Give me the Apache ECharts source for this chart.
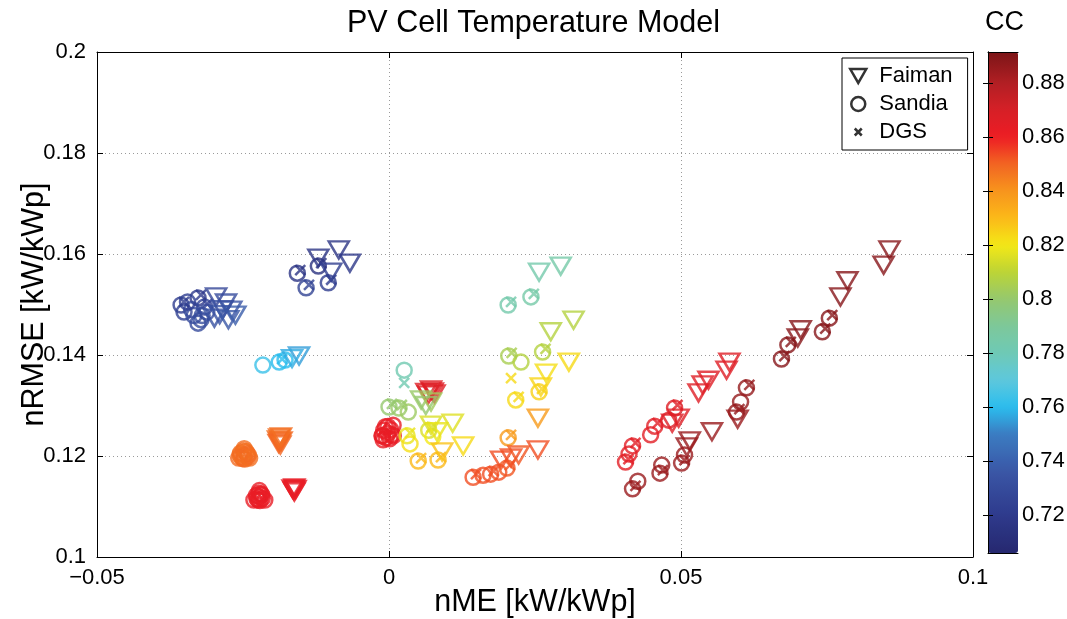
<!DOCTYPE html>
<html><head><meta charset="utf-8">
<script src="https://cdn.jsdelivr.net/npm/echarts@6/dist/echarts.min.js"></script>
<style>html,body{margin:0;padding:0;background:#fff}#c{width:1067px;height:619px}</style>
</head><body><div id="c"></div>
<script>
// ---- data: [nME, nRMSE, CC] ----
const faiman = [
  [-0.0296,0.1515,0.727],[-0.0299,0.1473,0.733],[-0.0279,0.1503,0.730],[-0.0270,0.1489,0.735],[-0.0263,0.1479,0.738],[-0.0285,0.1490,0.732],[-0.0290,0.1480,0.734],[-0.0275,0.1470,0.736],
  [-0.0121,0.1592,0.716],[-0.0086,0.1608,0.716],[-0.0067,0.1582,0.718],[-0.0099,0.1564,0.722],
  [-0.0154,0.1398,0.755],[-0.0166,0.1393,0.757],
  [-0.0188,0.1236,0.848],[-0.0187,0.1228,0.849],[-0.0186,0.1222,0.850],[-0.0190,0.1232,0.848],[-0.0184,0.1230,0.849],[-0.0189,0.1225,0.850],[-0.0185,0.1238,0.848],
  [-0.0162,0.1137,0.862],[-0.0163,0.1132,0.863],[-0.0165,0.1135,0.862],[-0.0160,0.1134,0.863],[-0.0162,0.1129,0.862],
  [0.0075,0.1327,0.866],[0.0067,0.1321,0.866],[0.0072,0.1331,0.866],[0.0078,0.1323,0.866],[0.0064,0.1326,0.866],
  [0.0055,0.1311,0.801],[0.0072,0.1307,0.803],[0.0063,0.1300,0.800],
  [0.0072,0.1261,0.815],[0.0109,0.1265,0.816],[0.0127,0.1220,0.823],[0.0082,0.1248,0.818],
  [0.0091,0.1208,0.828],
  [0.0192,0.1192,0.853],[0.0209,0.1196,0.853],[0.0222,0.1202,0.852],[0.0255,0.1212,0.853],
  [0.0255,0.1275,0.838],
  [0.0269,0.1364,0.822],[0.0260,0.1337,0.824],[0.0308,0.1386,0.823],
  [0.0277,0.1446,0.808],[0.0316,0.1469,0.808],
  [0.0257,0.1564,0.784],[0.0294,0.1576,0.785],
  [0.0485,0.1265,0.866],[0.0496,0.1275,0.866],[0.0530,0.1325,0.866],[0.0537,0.1341,0.866],[0.0547,0.1350,0.866],[0.0578,0.1370,0.866],[0.0583,0.1386,0.866],
  [0.0510,0.1218,0.885],[0.0515,0.1230,0.885],[0.0553,0.1248,0.885],[0.0597,0.1273,0.885],
  [0.0700,0.1434,0.889],[0.0705,0.1450,0.889],[0.0773,0.1515,0.889],[0.0785,0.1547,0.889],[0.0847,0.1578,0.889],[0.0857,0.1608,0.889]
];
const sandia = [
  [-0.0356,0.1499,0.722],[-0.0351,0.1485,0.724],[-0.0327,0.1513,0.720],[-0.0327,0.1463,0.730],[-0.0316,0.1495,0.726],[-0.0338,0.1490,0.728],[-0.0320,0.1478,0.732],
  [-0.0334,0.1478,0.730],[-0.0322,0.1470,0.731],[-0.0312,0.1485,0.729],[-0.0345,0.1505,0.723],
  [-0.0157,0.1562,0.716],[-0.0121,0.1576,0.714],[-0.0142,0.1533,0.725],[-0.0104,0.1543,0.722],
  [-0.0216,0.1380,0.763],[-0.0188,0.1386,0.760],[-0.0178,0.1390,0.760],
  [-0.0248,0.1202,0.848],[-0.0254,0.1206,0.848],[-0.0242,0.1198,0.849],[-0.0250,0.1195,0.850],[-0.0245,0.1209,0.847],[-0.0253,0.1198,0.848],
  [-0.0243,0.1205,0.849],[-0.0249,0.1210,0.848],[-0.0247,0.1194,0.849],[-0.0255,0.1202,0.848],[-0.0241,0.1202,0.849],
  [-0.0248,0.12145,0.848],[-0.02573,0.11958,0.849],[-0.02387,0.11958,0.848],
  [-0.0222,0.1119,0.862],[-0.0227,0.1122,0.862],[-0.0217,0.1116,0.862],[-0.0224,0.1113,0.862],[-0.0219,0.1125,0.862],
  [-0.0226,0.1115,0.862],[-0.0218,0.1123,0.862],[-0.0221,0.1112,0.862],[-0.0223,0.1126,0.862],
  [-0.0222,0.11315,0.862],[-0.02313,0.11128,0.862],[-0.02127,0.11128,0.862],
  [-0.0009,0.1251,0.862],[-0.0005,0.1236,0.862],[0.0007,0.1261,0.863],[-0.0002,0.1245,0.862],[-0.0012,0.1240,0.862],
  [0.0003,0.1252,0.862],[-0.0006,0.1258,0.862],[0.0005,0.1242,0.862],[-0.0010,0.1232,0.862],[0.0001,0.1234,0.862],
  [-0.0002,0.12585,0.862],[-0.00113,0.12398,0.862],[0.00073,0.12398,0.862],
  [0.0026,0.1370,0.782],
  [0.0000,0.1297,0.800],[0.0017,0.1295,0.801],[0.0033,0.1287,0.802],
  [0.0031,0.1240,0.818],[0.0036,0.1224,0.822],[0.0068,0.1251,0.815],[0.0075,0.1238,0.820],
  [0.0050,0.1190,0.830],[0.0084,0.1192,0.830],
  [0.0144,0.1158,0.853],[0.0161,0.1162,0.853],[0.0174,0.1164,0.853],[0.0188,0.1168,0.853],[0.0202,0.1176,0.852],
  [0.0204,0.1236,0.838],
  [0.0217,0.1311,0.823],[0.0257,0.1327,0.825],
  [0.0205,0.1398,0.805],[0.0226,0.1386,0.808],[0.0263,0.1406,0.808],
  [0.0204,0.1499,0.784],[0.0243,0.1515,0.785],
  [0.0405,0.1188,0.865],[0.0411,0.1204,0.865],[0.0417,0.1220,0.865],[0.0448,0.1242,0.865],[0.0455,0.1259,0.865],[0.0479,0.1271,0.866],[0.0489,0.1295,0.866],
  [0.0417,0.1135,0.885],[0.0426,0.1150,0.885],[0.0464,0.1166,0.885],[0.0467,0.1182,0.885],[0.0501,0.1186,0.885],[0.0506,0.1202,0.885],[0.0595,0.1287,0.886],[0.0602,0.1307,0.886],[0.0612,0.1335,0.886],
  [0.0672,0.1392,0.889],[0.0683,0.1420,0.889],[0.0742,0.1446,0.889],[0.0754,0.1473,0.889]
];
const dgs = [
  [-0.0351,0.1505,0.722],[-0.0322,0.1519,0.720],[-0.0311,0.1501,0.726],
  [-0.0152,0.1568,0.716],[-0.0116,0.1582,0.714],[-0.0137,0.1539,0.725],[-0.0099,0.1549,0.722],
  [-0.0183,0.1392,0.760],
  [0.0026,0.1345,0.782],
  [0.0005,0.1303,0.800],[0.0022,0.1301,0.801],
  [0.0036,0.1246,0.818],[0.0073,0.1257,0.815],
  [0.0055,0.1196,0.830],[0.0089,0.1198,0.830],
  [0.0149,0.1164,0.853],[0.0179,0.1170,0.853],[0.0207,0.1182,0.852],
  [0.0209,0.1242,0.838],
  [0.0209,0.1354,0.823],[0.0222,0.1317,0.823],[0.0262,0.1333,0.825],
  [0.0210,0.1404,0.805],[0.0268,0.1412,0.808],
  [0.0209,0.1505,0.784],[0.0248,0.1521,0.785],
  [0.0410,0.1194,0.865],[0.0422,0.1226,0.865],[0.0460,0.1265,0.865],[0.0494,0.1301,0.866],
  [0.0422,0.1141,0.885],[0.0469,0.1172,0.885],[0.0506,0.1192,0.885],[0.0600,0.1293,0.886],[0.0617,0.1341,0.886],
  [0.0677,0.1398,0.889],[0.0688,0.1426,0.889],[0.0747,0.1452,0.889],[0.0759,0.1479,0.889]
];
const xTicks = [-0.05, 0, 0.05, 0.1];
const yTicks = [0.1, 0.12, 0.14, 0.16, 0.18, 0.2];
const ccTicks = [0.72, 0.74, 0.76, 0.78, 0.8, 0.82, 0.84, 0.86, 0.88];
const ccRange = [0.706, 0.8915];
// colormap stops
const ccStops  = [0.706,0.72,0.735,0.75,0.76,0.77,0.78,0.79,0.80,0.81,0.82,0.83,0.84,0.85,0.86,0.87,0.88,0.8915];
const ccColors = ['#26286f','#2e3a8c','#3a54a4','#3b7cc2','#2bbdee','#5ec8dc','#6ec9b6','#7dc89a','#95c86e','#bcd436','#f4e816','#fbb919','#f7941d','#f26522','#ed1c24','#d62027','#b21f24','#7b1517'];

function hex2rgb(h){return [parseInt(h.substr(1,2),16),parseInt(h.substr(3,2),16),parseInt(h.substr(5,2),16)];}
function cmap(v){
  if (v<=ccStops[0]) return ccColors[0];
  for (let i=1;i<ccStops.length;i++){
    if (v<=ccStops[i]){
      const t=(v-ccStops[i-1])/(ccStops[i]-ccStops[i-1]);
      const a=hex2rgb(ccColors[i-1]), b=hex2rgb(ccColors[i]);
      return 'rgb('+a.map((c,k)=>Math.round(c+(b[k]-c)*t)).join(',')+')';
    }
  }
  return ccColors[ccColors.length-1];
}
const barColors=[];
for(let i=0;i<=80;i++){barColors.push(cmap(ccRange[0]+(ccRange[1]-ccRange[0])*i/80));}

const FONT='"Liberation Sans", Arial, Helvetica, sans-serif';
const triPath='path://M0,0L10,0L5,8.66Z';
const xPath='path://M0,0L10,10M0,10L10,0';
const xLegendPath='path://M0,0M16,16M4,4L12,12M4,12L12,4';

function toData(arr){
  return arr.map(p=>({value:[p[0],p[1],p[2]], itemStyle:{color:'rgba(0,0,0,0)', borderColor:cmap(p[2])}}));
}
const fmt = v => String(+v.toFixed(4)).replace('-','\u2212');

const chart = echarts.init(document.getElementById('c'), null, {renderer:'canvas'});
const axisCommon = {
  axisLine:{show:true, onZero:false, lineStyle:{color:'#000', width:1}},
  axisTick:{show:true, inside:true, length:6, lineStyle:{color:'#000'}},
};
const TICKFS = 22;
chart.setOption({
  animation:false,
  backgroundColor:'#fff',
  textStyle:{fontFamily:FONT},
  title:[
    {text:'PV Cell Temperature Model', left:'center', top:3, textStyle:{fontSize:30.5, fontWeight:'normal', color:'#000', fontFamily:FONT}},
    {text:'CC', left:980, top:4, textStyle:{fontSize:27, fontWeight:'normal', color:'#000', fontFamily:FONT}}
  ],
  grid:[
    {left:97, right:94, top:52, bottom:62, show:false, outerBoundsMode:'none', containLabel:false},
    {left:988, top:52, width:30, height:501, show:false, outerBoundsMode:'none', containLabel:false}
  ],
  xAxis:[
    Object.assign({type:'value', gridIndex:0, position:'bottom', min:xTicks[0], max:xTicks[xTicks.length-1], interval:0.05,
      name:'nME [kW/kWp]', nameLocation:'middle', nameGap:30, nameMoveOverlap:false,
      nameTextStyle:{fontSize:30.5, color:'#000', fontFamily:FONT},
      axisLabel:{fontSize:TICKFS, color:'#000', margin:10, formatter:fmt, fontFamily:FONT},
      splitLine:{show:true, lineStyle:{color:'#9a9a9a', type:[1,3], width:1}}}, axisCommon),
    Object.assign({type:'value', gridIndex:0, position:'top', min:xTicks[0], max:xTicks[xTicks.length-1], interval:0.05,
      axisLabel:{show:false}, splitLine:{show:false}}, axisCommon),
    {type:'value', gridIndex:1, position:'bottom', min:0, max:1, axisLabel:{show:false}, axisTick:{show:false}, splitLine:{show:false},
      axisLine:{show:true, lineStyle:{color:'#000'}}, z:10},
    {type:'value', gridIndex:1, position:'top', min:0, max:1, axisLabel:{show:false}, axisTick:{show:false}, splitLine:{show:false},
      axisLine:{show:true, lineStyle:{color:'#000'}}, z:10}
  ],
  yAxis:[
    Object.assign({type:'value', gridIndex:0, position:'left', min:yTicks[0], max:yTicks[yTicks.length-1], interval:0.02,
      name:'nRMSE [kW/kWp]', nameLocation:'middle', nameGap:47, nameMoveOverlap:false,
      nameTextStyle:{fontSize:30.5, color:'#000', fontFamily:FONT},
      axisLabel:{fontSize:TICKFS, color:'#000', margin:11, formatter:fmt, fontFamily:FONT},
      splitLine:{show:true, lineStyle:{color:'#9a9a9a', type:[1,3], width:1}}}, axisCommon),
    Object.assign({type:'value', gridIndex:0, position:'right', min:yTicks[0], max:yTicks[yTicks.length-1], interval:0.02,
      axisLabel:{show:false}, splitLine:{show:false}}, axisCommon),
    {type:'value', gridIndex:1, position:'right', min:ccRange[0], max:ccRange[1], z:10,
      axisLine:{show:true, lineStyle:{color:'#000'}},
      axisTick:{show:true, inside:true, length:5, customValues:ccTicks, lineStyle:{color:'#000'}},
      axisLabel:{show:true, customValues:ccTicks, fontSize:TICKFS, color:'#000', margin:4, formatter:fmt, fontFamily:FONT},
      splitLine:{show:false}},
    {type:'value', gridIndex:1, position:'left', min:ccRange[0], max:ccRange[1], z:10,
      axisLine:{show:true, lineStyle:{color:'#000'}},
      axisTick:{show:true, inside:true, length:5, customValues:ccTicks, lineStyle:{color:'#000'}},
      axisLabel:{show:false}, splitLine:{show:false}}
  ],
  visualMap:{
    type:'continuous', min:ccRange[0], max:ccRange[1], orient:'vertical',
    left:988, top:52, itemWidth:30, itemHeight:501, padding:0,
    calculable:false, showLabel:false, hoverLink:false, realtime:false,
    seriesIndex:3, dimension:2,
    inRange:{color:barColors}
  },
  legend:{
    orient:'vertical', left:842, top:58, padding:[7,15,7,7], itemGap:6,
    itemWidth:16, itemHeight:14, backgroundColor:'#fff', borderColor:'#000', borderWidth:1, borderRadius:0,
    textStyle:{fontSize:22, color:'#000', fontFamily:FONT, padding:[0,0,0,8]},
    selectedMode:false,
    data:[
      {name:'Faiman', icon:triPath, itemStyle:{color:'rgba(0,0,0,0)', borderColor:'#000', borderWidth:2.5}},
      {name:'Sandia', icon:'circle', itemStyle:{color:'rgba(0,0,0,0)', borderColor:'#000', borderWidth:2.5}},
      {name:'DGS', icon:xLegendPath, itemStyle:{color:'rgba(0,0,0,0)', borderColor:'#000', borderWidth:2.5}}
    ]
  },
  series:[
    {type:'scatter', name:'Sandia', xAxisIndex:0, yAxisIndex:0, symbol:'circle', symbolSize:15,
      itemStyle:{color:'rgba(0,0,0,0)', borderColor:'#000', borderWidth:2.5}, emphasis:{disabled:true}, data:toData(sandia)},
    {type:'scatter', name:'DGS', xAxisIndex:0, yAxisIndex:0, symbol:xPath, symbolSize:10,
      itemStyle:{color:'rgba(0,0,0,0)', borderColor:'#000', borderWidth:2.5}, emphasis:{disabled:true}, data:toData(dgs)},
    {type:'scatter', name:'Faiman', xAxisIndex:0, yAxisIndex:0, symbol:triPath, symbolSize:[20,17],
      itemStyle:{color:'rgba(0,0,0,0)', borderColor:'#000', borderWidth:2.5}, emphasis:{disabled:true}, data:toData(faiman)},
    {type:'scatter', name:'cbar', xAxisIndex:2, yAxisIndex:2, silent:true, data:[]}
  ]
});
</script></body></html>
